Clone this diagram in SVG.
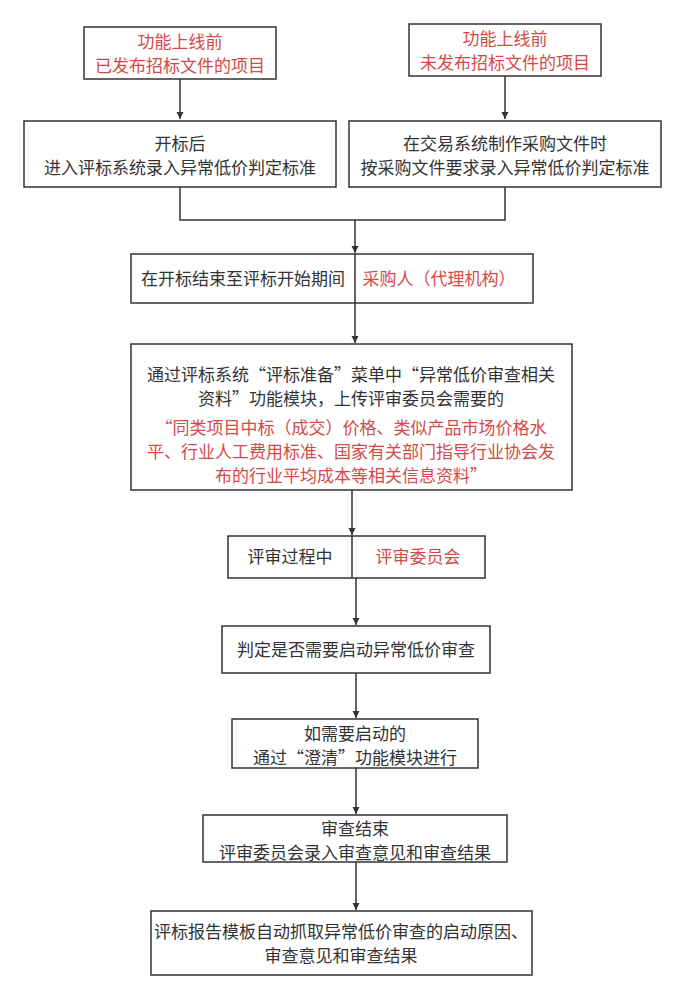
<svg xmlns="http://www.w3.org/2000/svg" width="685" height="1000" viewBox="0 0 685 1000">
<defs>
<style>
.b{fill:#fff;stroke:#333;stroke-width:1.5}
text{font-family:"Noto Sans CJK SC","Noto Sans",sans-serif;font-size:17px;fill:#333;text-anchor:middle}
.r{fill:#d44a48}
.c{stroke:#333;stroke-width:1.5;fill:none}
</style>
<marker id="a" viewBox="0 0 10 10" refX="10" refY="5" markerWidth="7" markerHeight="9" orient="auto" markerUnits="userSpaceOnUse"><path d="M0,0L10,5L0,10z" fill="#333"/></marker>
</defs>
<rect width="685" height="1000" fill="#fff"/>
<g id="connectors">
<path class="c" d="M180,79V119" marker-end="url(#a)"/>
<path class="c" d="M505,76V119" marker-end="url(#a)"/>
<path class="c" d="M180,187V220H505V187"/>
<path class="c" d="M355,220V253" marker-end="url(#a)"/>
<path class="c" d="M355,303V343" marker-end="url(#a)"/>
<path class="c" d="M352,490V535" marker-end="url(#a)"/>
<path class="c" d="M356,578V625" marker-end="url(#a)"/>
<path class="c" d="M356,673V718" marker-end="url(#a)"/>
<path class="c" d="M356,768V814" marker-end="url(#a)"/>
<path class="c" d="M356,862V910" marker-end="url(#a)"/>
</g>
<g id="n1"><rect class="b" x="84" y="27" width="192" height="52"/><text class="r" x="180" y="48">功能上线前</text><text class="r" x="180" y="72">已发布招标文件的项目</text></g>
<g id="n2"><rect class="b" x="409" y="24" width="192" height="52"/><text class="r" x="505" y="45">功能上线前</text><text class="r" x="505" y="69">未发布招标文件的项目</text></g>
<g id="n3"><rect class="b" x="24" y="121" width="312" height="66"/><text x="180" y="150">开标后</text><text x="180" y="174">进入评标系统录入异常低价判定标准</text></g>
<g id="n4"><rect class="b" x="349" y="121" width="312" height="66"/><text x="505" y="150">在交易系统制作采购文件时</text><text x="505" y="174">按采购文件要求录入异常低价判定标准</text></g>
<g id="n5"><rect class="b" x="131" y="254" width="402" height="49"/><line class="c" x1="355" y1="254" x2="355" y2="303"/><text x="243" y="285">在开标结束至评标开始期间</text><text class="r" x="439" y="285">采购人（代理机构）</text></g>
<g id="n6"><rect class="b" x="131" y="344" width="441" height="146"/>
<text x="351" y="381">通过评标系统“评标准备”菜单中“异常低价审查相关</text>
<text x="351" y="405">资料”功能模块，上传评审委员会需要的</text>
<text class="r" x="351" y="434">“同类项目中标（成交）价格、类似产品市场价格水</text>
<text class="r" x="351" y="458">平、行业人工费用标准、国家有关部门指导行业协会发</text>
<text class="r" x="351" y="482">布的行业平均成本等相关信息资料”</text></g>
<g id="n7"><rect class="b" x="228" y="536" width="257" height="42"/><line class="c" x1="352" y1="536" x2="352" y2="578"/><text x="290" y="563">评审过程中</text><text class="r" x="418" y="563">评审委员会</text></g>
<g id="n8"><rect class="b" x="222" y="626" width="268" height="47"/><text x="356" y="656">判定是否需要启动异常低价审查</text></g>
<g id="n9"><rect class="b" x="232" y="719" width="246" height="49"/><text x="355" y="740">如需要启动的</text><text x="355" y="764">通过“澄清”功能模块进行</text></g>
<g id="n10"><rect class="b" x="203" y="815" width="304" height="47"/><text x="355" y="835">审查结束</text><text x="355" y="859">评审委员会录入审查意见和审查结果</text></g>
<g id="n11"><rect class="b" x="151" y="911" width="381" height="64"/><text x="341" y="938">评标报告模板自动抓取异常低价审查的启动原因、</text><text x="341" y="962">审查意见和审查结果</text></g>
</svg>
